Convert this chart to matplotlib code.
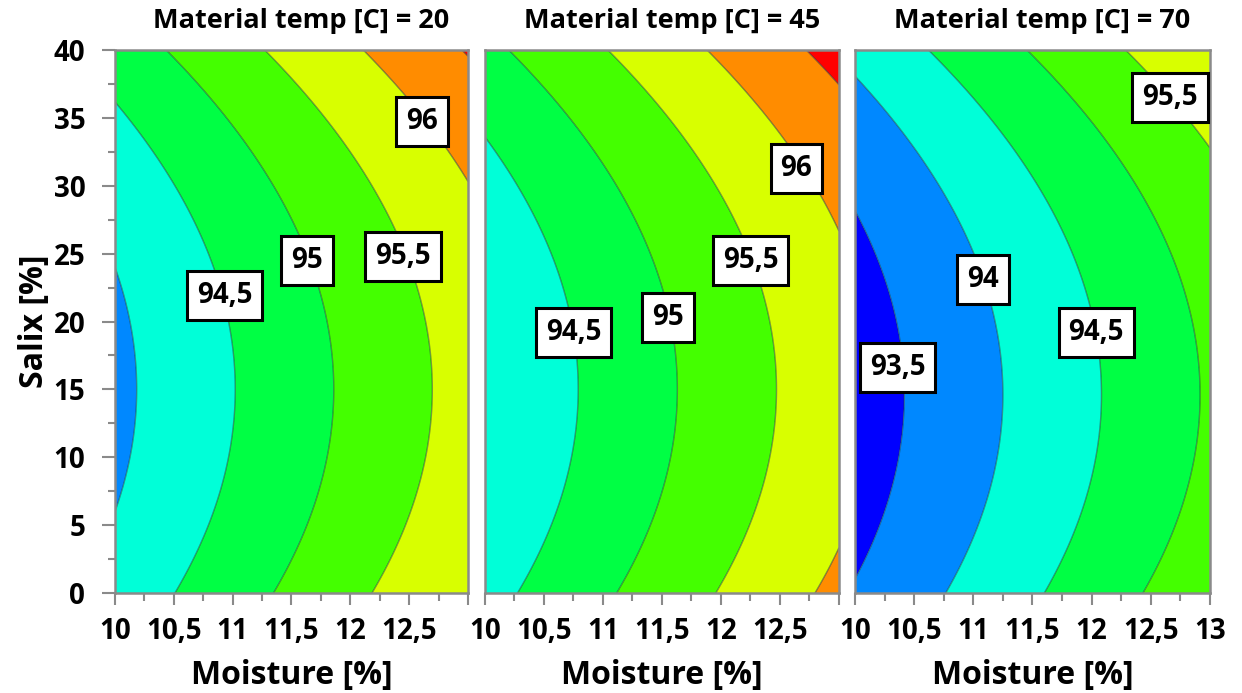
import numpy as np
import matplotlib
matplotlib.use('Agg')
import matplotlib.pyplot as plt
from matplotlib.ticker import MultipleLocator, FuncFormatter

# ---- data (response surface) ----
temps = [20, 45, 70]                      # Material temp [C] per panel
ref_value = [93.89, 94.03, 93.25]         # predicted value at Moisture=10, Salix=15
moisture_slope = [0.597, 0.595, 0.600]    # change per 1 % moisture
salix_curvature = [0.00136, 0.00136, 0.00136]
salix_center = [15.0, 15.0, 14.6]
levels = [93.5, 94.0, 94.5, 95.0, 95.5, 96.0, 96.5]
band_colors = ['#0000ff', '#0088ff', '#00ffd8', '#00ff44', '#44ff00',
               '#d8ff00', '#ff8c00', '#ff0000']
moisture_range = [10, 13]
salix_range = [0, 40]
label_levels = [[94.5, 95.0, 95.5, 96.0],
                [94.5, 95.0, 95.5, 96.0],
                [93.5, 94.0, 94.5, 95.5]]

# ---- layout ----
label_pos = [[(10.93, 21.9), (11.63, 24.5), (12.45, 24.8), (12.61, 34.7)],
             [(10.75, 19.2), (11.55, 20.3), (12.25, 24.5), (12.64, 31.3)],
             [(10.36, 16.6), (11.08, 23.1), (12.04, 19.2), (12.66, 36.5)]]
axes_rects = [[0.0926, 0.1443, 0.2842, 0.7835],
              [0.3905, 0.1443, 0.2850, 0.7835],
              [0.6884, 0.1443, 0.2858, 0.7835]]

plt.rcParams['font.family'] = ['Open Sans', 'DejaVu Sans']
plt.rcParams['font.weight'] = 'bold'

def comma(v, pos=None):
    s = ('%g' % v).replace('.', ',')
    return s

fig = plt.figure(figsize=(12.42, 6.93), dpi=100)
xs = np.linspace(moisture_range[0], moisture_range[1], 301)
ys = np.linspace(salix_range[0], salix_range[1], 301)
X, Y = np.meshgrid(xs, ys)

for i, rect in enumerate(axes_rects):
    ax = fig.add_axes(rect)
    Z = (ref_value[i] + moisture_slope[i] * (X - moisture_range[0])
         + salix_curvature[i] * (Y - salix_center[i]) ** 2)
    bounds = [min(Z.min(), levels[0]) - 1] + levels + [max(Z.max(), levels[-1]) + 1]
    ax.contourf(X, Y, Z, levels=bounds, colors=band_colors, antialiased=True)
    ax.contour(X, Y, Z, levels=levels, colors='#1a3a3a', linewidths=1.0, alpha=0.5)
    ax.set_xlim(*moisture_range)
    ax.set_ylim(*salix_range)

    for lv, (lx, ly) in zip(label_levels[i], label_pos[i]):
        ax.text(lx, ly, comma(lv), ha='center', va='center', fontsize=20,
                fontweight='bold', color='black', zorder=5,
                bbox=dict(boxstyle='square,pad=0.36', fc='white', ec='black', lw=2.2))

    for sp in ax.spines.values():
        sp.set_color('#8a8a8a')
        sp.set_linewidth(1.8)

    ax.xaxis.set_major_locator(MultipleLocator(0.5))
    ax.xaxis.set_minor_locator(MultipleLocator(0.25))
    if i < 2:
        ax.xaxis.set_major_formatter(FuncFormatter(
            lambda v, p: '' if v > 12.9 else comma(v)))
    else:
        ax.xaxis.set_major_formatter(FuncFormatter(comma))
    ax.tick_params(axis='x', which='major', length=8.6, width=1.5, color='#8a8a8a',
                   labelsize=20, pad=9)
    ax.tick_params(axis='x', which='minor', length=5.4, width=1.5, color='#8a8a8a')
    ax.set_xlabel('Moisture [%]', fontsize=23, fontweight='bold', labelpad=9)
    ax.set_title('Material temp [C] = %d' % temps[i], fontsize=19.5,
                 fontweight='bold', pad=16, x=0.528)

    if i == 0:
        ax.yaxis.set_major_locator(MultipleLocator(5))
        ax.yaxis.set_minor_locator(MultipleLocator(2.5))
        ax.tick_params(axis='y', which='major', length=9.4, width=1.5,
                       color='#8a8a8a', labelsize=20, pad=12)
        ax.tick_params(axis='y', which='minor', length=5.4, width=1.5, color='#8a8a8a')
        ax.set_ylabel('Salix [%]', fontsize=23, fontweight='bold', labelpad=2)
    else:
        ax.tick_params(axis='y', which='both', left=False, labelleft=False)

fig.savefig('out.png', dpi=100)
